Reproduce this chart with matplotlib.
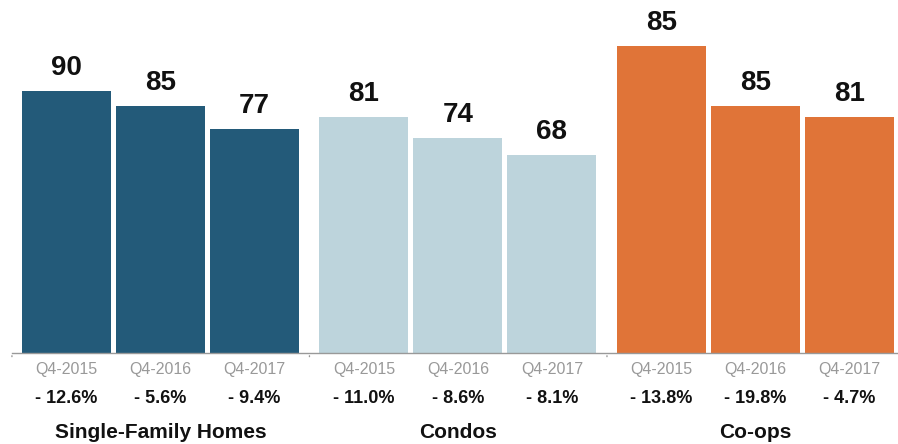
import numpy as np
import matplotlib
matplotlib.use("Agg")
import matplotlib.pyplot as plt

plt.rcParams['font.family'] = ['Liberation Sans', 'DejaVu Sans']

# data (bar heights as drawn; the first co-op bar is drawn taller than its label)
groups = ["Single-Family Homes", "Condos", "Co-ops"]
periods = ["Q4-2015", "Q4-2016", "Q4-2017"]
heights = [
    [90, 85, 77],
    [81, 74, 68],
    [105.5, 85, 81],
]
labels = [
    ["90", "85", "77"],
    ["81", "74", "68"],
    ["85", "85", "81"],
]
changes = [
    ["- 12.6%", "- 5.6%", "- 9.4%"],
    ["- 11.0%", "- 8.6%", "- 8.1%"],
    ["- 13.8%", "- 19.8%", "- 4.7%"],
]
colors = ["#235a79", "#bdd4dc", "#e07438"]

group_step = 3.165
bar_w = 0.947

fig = plt.figure(figsize=(8.98, 4.44), dpi=100)
ax = fig.add_axes([0, 91 / 444, 1, 353 / 444])
ax.set_xlim(-0.707, 8.846)
ax.set_ylim(0, 121.3)
ax.axis("off")

for g, name in enumerate(groups):
    xs = g * group_step + np.arange(len(periods))
    ax.bar(xs, heights[g], width=bar_w, color=colors[g])
    for x, h, lab, p, c in zip(xs, heights[g], labels[g], periods, changes[g]):
        ax.annotate(lab, (x, h), xytext=(0, 11.5), textcoords="offset points",
                    ha="center", va="baseline", fontsize=20, fontweight="bold", color="#111111")
        ax.annotate(p, (x, 0), xytext=(0, -12), textcoords="offset points",
                    ha="center", va="center", fontsize=11.5, color="#999999")
        ax.annotate(c, (x, 0), xytext=(0, -33), textcoords="offset points",
                    ha="center", va="center", fontsize=13, fontweight="bold", color="#111111")
    ax.annotate(name, (xs[1], 0), xytext=(0, -57), textcoords="offset points",
                ha="center", va="center", fontsize=15, fontweight="bold", color="#111111")

# baseline with separator ticks
sep = [-0.58 + k * group_step for k in range(4)]
ax.plot([-0.58, sep[-1]], [0, 0], color="#999999", lw=1, clip_on=False)
for s in sep:
    ax.annotate("", (s, 0), xytext=(s, -2.2), xycoords="data",
                arrowprops=dict(arrowstyle="-", color="#999999", lw=1))

fig.savefig("out.png", dpi=100)
